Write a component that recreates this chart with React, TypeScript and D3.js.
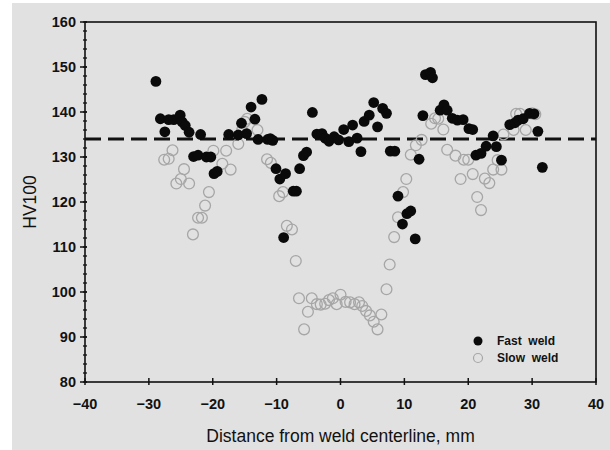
import React from "react";
import * as d3 from "d3";

const fastX = [-28.9,-28.2,-27.5,-26.9,-26.1,-25.1,-24.8,-24.3,-23.7,-21.9,-23.0,-22.3,-21.0,-20.3,-19.8,-19.3,-17.5,-16.0,-15.5,-14.7,-14.0,-13.4,-12.3,-12.9,-11.4,-11.0,-10.6,-10.1,-9.5,-8.6,-8.9,-7.4,-6.9,-6.4,-5.8,-5.3,-4.4,-3.7,-2.9,-2.4,-1.8,-1.0,-0.3,0.5,1.3,1.9,2.6,3.2,3.7,4.5,5.2,5.8,6.6,7.2,7.8,8.5,9.0,9.7,10.4,11.0,11.7,12.3,12.9,13.3,14.1,14.4,15.6,16.2,16.7,17.5,18.3,19.2,20.1,20.7,21.2,22.0,22.8,23.9,24.4,25.2,26.5,27.3,27.8,28.6,29.6,30.3,30.9,31.6];
const fastY = [146.8,138.5,135.6,138.3,138.3,139.3,137.8,137.0,135.5,135.0,130.1,130.4,130.0,130.0,126.3,126.8,135.0,134.9,137.5,135.2,141.1,138.4,142.8,133.9,133.9,134.1,133.7,127.4,125.1,126.3,112.1,122.4,122.4,127.4,130.3,131.1,139.9,135.1,135.2,134.2,133.5,134.5,133.8,136.1,133.4,137.1,134.2,131.2,137.9,139.3,142.1,136.7,140.8,139.7,131.3,131.3,121.3,115.1,117.4,118.0,111.8,129.5,139.2,148.3,148.8,147.6,140.4,141.6,140.4,138.6,138.2,138.3,136.3,136.1,130.4,130.8,132.4,134.7,132.3,129.3,137.2,137.6,138.2,138.5,139.7,139.6,135.7,127.7];

const slowX = [-27.6,-26.9,-26.3,-24.5,-25.0,-25.7,-23.7,-23.1,-22.3,-21.7,-21.2,-20.6,-19.9,-18.5,-17.9,-17.2,-16.0,-15.4,-15.0,-14.6,-13.0,-11.5,-10.9,-9.6,-9.0,-8.4,-7.6,-7.0,-6.5,-5.7,-5.1,-4.5,-3.7,-3.1,-2.4,-1.8,-1.2,-0.6,0.0,0.8,1.5,2.2,2.9,3.4,4.0,4.6,5.2,5.8,6.4,7.2,7.7,8.4,9.0,9.8,10.3,11.0,11.8,12.7,14.2,14.8,15.3,16.1,16.7,18.0,18.8,19.3,20.0,20.7,21.4,22.0,22.6,23.3,23.9,24.6,25.2,25.5,27.1,27.5,28.1,29.0,30.0,30.5];
const slowY = [129.4,129.6,131.5,127.3,125.1,124.1,124.1,112.8,116.5,116.5,119.2,122.2,131.4,128.5,131.4,127.2,132.9,136.0,137.8,138.5,136.0,129.5,128.7,121.3,122.2,114.7,113.9,106.9,98.6,91.7,95.6,98.6,97.3,97.2,97.4,98.2,98.6,97.3,99.4,97.8,97.7,97.3,97.7,96.9,95.8,94.8,93.4,91.7,95.0,100.6,106.1,112.2,116.6,122.2,125.1,130.5,132.6,133.8,137.4,138.6,138.5,136.1,131.6,130.3,125.1,129.4,129.4,126.2,121.1,118.2,125.2,124.2,127.2,129.3,127.2,135.0,136.0,139.6,139.6,136.0,139.7,139.5];

const xTicks = [-40, -30, -20, -10, 0, 10, 20, 30, 40];
const yTicks = [80, 90, 100, 110, 120, 130, 140, 150, 160];
const refLine = 134;
const legendLabels = ["Fast  weld", "Slow  weld"];

export default function App() {
  const W = 610, H = 450;
  const x = d3.scaleLinear().domain([-40, 40]).range([85, 596]);
  const y = d3.scaleLinear().domain([80, 160]).range([382, 22]);
  const minorY = d3.range(80, 160.01, 2);
  const font = "'Liberation Sans', Arial, sans-serif";
  const r = 5.4;
  return (
    <svg width={W} height={H} style={{ position: "absolute", left: 0, top: 0 }} fontFamily={font}>
      <rect x={0} y={0} width={W} height={H} fill="#ffffff" />
      <rect x={12} y={3} width={W - 12} height={H - 3} fill="#e1e1e1" />
      <rect x={x(-40)} y={y(160)} width={x(40) - x(-40)} height={y(80) - y(160)} fill="none" stroke="#111" strokeWidth={1.6} />
      {minorY.map((v) => (
        <line key={"m" + v} x1={x(-40) - 2} x2={x(-40) + 2} y1={y(v)} y2={y(v)} stroke="#111" strokeWidth={1.3} />
      ))}
      {yTicks.map((v) => (
        <g key={"y" + v}>
          <line x1={x(-40) - 5} x2={x(-40) + 2} y1={y(v)} y2={y(v)} stroke="#111" strokeWidth={1.5} />
          <text x={x(-40) - 9} y={y(v)} dy="0.35em" textAnchor="end" fontSize={14.5} fontWeight="bold" fill="#111">{v}</text>
        </g>
      ))}
      {xTicks.map((v) => (
        <g key={"x" + v}>
          <line x1={x(v)} x2={x(v)} y1={y(80) - 4} y2={y(80) + 3} stroke="#111" strokeWidth={1.5} />
          <text x={x(v)} y={y(80) + 27} textAnchor="middle" fontSize={14.5} fontWeight="bold" fill="#111">{v < 0 ? "\u2212" + Math.abs(v) : v}</text>
        </g>
      ))}
      <line x1={x(-40)} x2={x(40)} y1={y(refLine)} y2={y(refLine)} stroke="#111" strokeWidth={3} strokeDasharray="16 7" />
      {slowX.map((v, i) => (
        <circle key={"s" + i} cx={x(v)} cy={y(slowY[i])} r={r} fill="none" stroke="#a6a6a6" strokeWidth={1.3} />
      ))}
      {fastX.map((v, i) => (
        <circle key={"f" + i} cx={x(v)} cy={y(fastY[i])} r={r} fill="#0a0a0a" />
      ))}
      <circle cx={478} cy={341} r={4.5} fill="#0a0a0a" />
      <circle cx={478} cy={358} r={4.5} fill="none" stroke="#a6a6a6" strokeWidth={1.2} />
      <text x={497} y={341} dy="0.35em" fontSize={12} fontWeight="bold" fill="#111" style={{ whiteSpace: "pre" }}>{legendLabels[0]}</text>
      <text x={497} y={358} dy="0.35em" fontSize={12} fontWeight="bold" fill="#111" style={{ whiteSpace: "pre" }}>{legendLabels[1]}</text>
      <text x={(x(-40) + x(40)) / 2} y={442} textAnchor="middle" fontSize={17.5} fill="#111">Distance from weld centerline, mm</text>
      <text transform={`translate(36,${(y(80) + y(160)) / 2}) rotate(-90)`} textAnchor="middle" fontSize={17.5} fill="#111">HV100</text>
    </svg>
  );
}
